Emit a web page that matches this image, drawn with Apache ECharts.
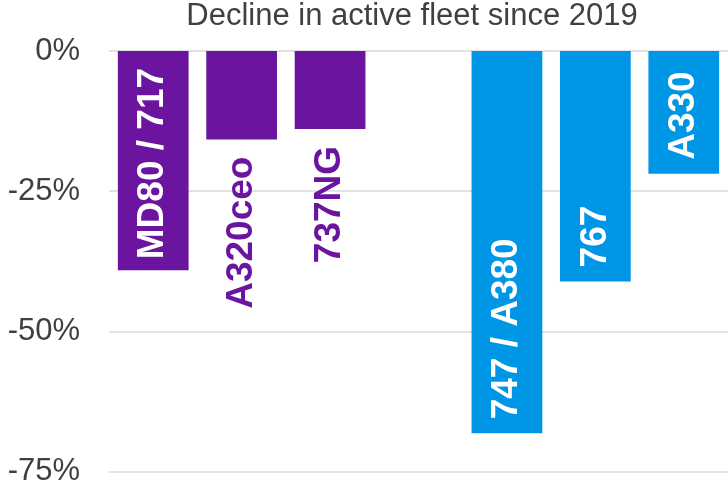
<!DOCTYPE html>
<html>
<head>
<meta charset="utf-8">
<script src="https://cdn.jsdelivr.net/npm/echarts@6/dist/echarts.min.js"></script>
<style>
  html, body { margin: 0; padding: 0; background: #fff; }
  #chart { width: 728px; height: 487px; }
</style>
</head>
<body>
<div id="chart"></div>
<script>
// 机型（中间空一格分开窄体和宽体）
var types = ['MD80 / 717', 'A320ceo', '737NG', '', '747 / A380', '767', 'A330'];
// 相对2019年的降幅 (%)
var declines = [-39.1, -15.8, -13.9, null, -68.2, -41.1, -21.9];
// 标签放在柱子里面还是外面
var labelInside = [true, false, false, false, true, true, true];
var yTicks = [-75, -50, -25, 0];

var purple = '#6A14A0';
var blue = '#0096E6';

var barData = [];
for (var i = 0; i < types.length; i++) {
    if (declines[i] === null) {
        barData.push('-');
        continue;
    }
    var color = i < 3 ? purple : blue;
    var item = { value: declines[i], itemStyle: { color: color } };
    if (labelInside[i]) {
        item.label = {
            position: 'insideBottom',
            distance: i === 0 ? 11 : 14,
            align: 'left',
            color: '#fff'
        };
    } else {
        item.label = {
            position: 'bottom',
            distance: 17,
            align: 'right',
            color: color
        };
    }
    barData.push(item);
}

var myChart = echarts.init(document.getElementById('chart'));

var option = {
    animation: false,
    title: {
        text: 'Decline in active fleet since 2019',
        left: 412,
        top: 1,
        padding: 0,
        textAlign: 'center',
        textStyle: {
            color: '#404040',
            fontSize: 31,
            fontWeight: 'normal',
            fontFamily: 'Liberation Sans, Arial, sans-serif'
        }
    },
    grid: {
        left: 109,
        right: 0,
        top: 51,
        bottom: 15,
        containLabel: false
    },
    xAxis: {
        type: 'category',
        data: types,
        axisLine: { show: false },
        axisTick: { show: false },
        axisLabel: { show: false }
    },
    yAxis: {
        type: 'value',
        min: yTicks[0],
        max: yTicks[yTicks.length - 1],
        interval: 25,
        axisLine: { show: false },
        axisTick: { show: false },
        axisLabel: {
            formatter: '{value}%',
            margin: 29,
            color: '#404040',
            fontSize: 31,
            fontFamily: 'Liberation Sans, Arial, sans-serif'
        },
        splitLine: {
            lineStyle: { color: '#d9d9d9', width: 1.5 }
        }
    },
    series: [{
        type: 'bar',
        data: barData,
        barCategoryGap: '20%',
        label: {
            show: true,
            rotate: 90,
            verticalAlign: 'middle',
            formatter: '{b}',
            fontSize: 37,
            fontWeight: 'bold',
            fontFamily: 'Liberation Sans, Arial, sans-serif'
        }
    }]
};

myChart.setOption(option);
</script>
</body>
</html>
